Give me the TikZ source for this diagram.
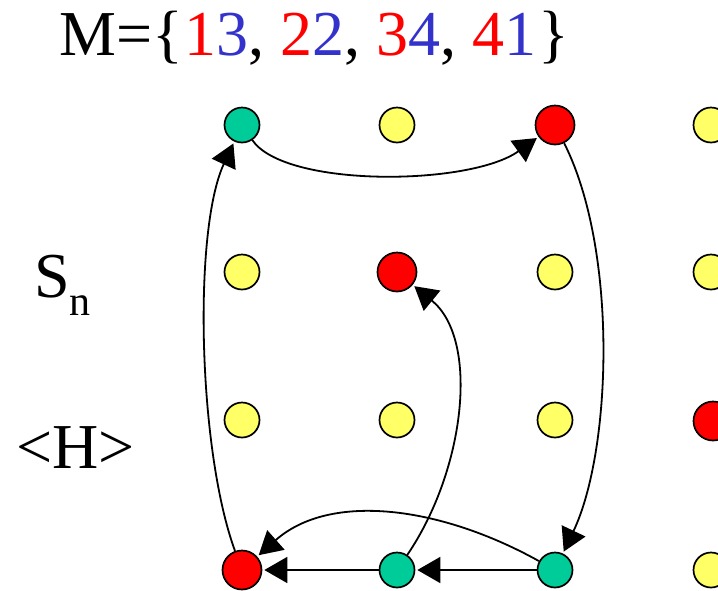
\documentclass[tikz,border=0pt]{standalone}
\usepackage{fontspec}
\setmainfont{Liberation Serif}
\usetikzlibrary{arrows.meta}
\definecolor{dotgreen}{RGB}{0,204,153}
\definecolor{dotyellow}{RGB}{255,255,102}
\definecolor{dotred}{RGB}{255,0,0}
\definecolor{numblue}{RGB}{51,51,204}
\begin{document}
\begin{tikzpicture}[x=1pt,y=-1pt,
  dot/.style={circle,draw=black,line width=1.7pt,minimum size=35pt,inner sep=0pt},
  gdot/.style={dot,fill=dotgreen},
  ydot/.style={dot,fill=dotyellow},
  rdot/.style={dot,fill=dotred,minimum size=39pt},
  link/.style={line width=1.8pt,shorten >=2pt,-{Triangle[length=23pt,width=26pt]}},
  lbl/.style={inner sep=0pt,anchor=base west,font=\fontsize{64}{70}\selectfont}]
\useasboundingbox (0,0) rectangle (718,590);
% title
\node[lbl] (title) at (59,55) {M=\{\hspace{2pt}\textcolor{dotred}{1}\textcolor{numblue}{3}, \textcolor{dotred}{2}\textcolor{numblue}{2}, \textcolor{dotred}{3}\textcolor{numblue}{4}, \textcolor{dotred}{4}\textcolor{numblue}{1}\hspace{2pt}\}};
\node[lbl] (sn) at (34,297) {S\raisebox{-18pt}{\fontsize{42}{46}\selectfont n}};
\node[lbl] (h) at (16,468) {<H>};
% grid
\node[gdot] (n11) at (242,125) {};
\node[ydot] (n12) at (397,125) {};
\node[rdot] (n13) at (555,125) {};
\node[ydot] (n14) at (711,125) {};
\node[ydot] (n21) at (242,272) {};
\node[rdot] (n22) at (397,272) {};
\node[ydot] (n23) at (555,272) {};
\node[ydot] (n24) at (711,272) {};
\node[ydot] (n31) at (242,420) {};
\node[ydot] (n32) at (397,420) {};
\node[ydot] (n33) at (555,420) {};
\node[rdot] (n34) at (713,421) {};
\node[rdot] (n41) at (242,570) {};
\node[gdot] (n42) at (397,570) {};
\node[gdot] (n43) at (555,570) {};
\node[ydot] (n44) at (711,570) {};
% connectors
\draw[link] (n11) .. controls (285,188) and (470,186) .. (n13);
\draw[link] (n13) .. controls (618,250) and (612,450) .. (n43);
\draw[link] (n43) -- (n42);
\draw[link] (n42) -- (n41);
\draw[link] (n43) .. controls (440,506) and (330,492) .. (n41);
\draw[link] (n42) .. controls (465,470) and (480,340) .. (n22);
\draw[link] (n41) .. controls (198,450) and (193,230) .. (n11);
\end{tikzpicture}
\end{document}
